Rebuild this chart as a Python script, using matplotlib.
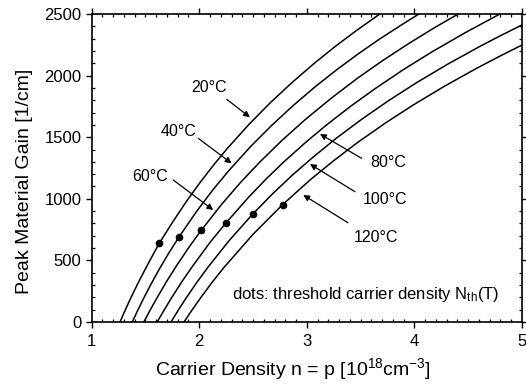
import matplotlib
matplotlib.use("Agg")
import matplotlib.pyplot as plt
from matplotlib.ticker import MultipleLocator

plt.rcParams.update({"font.family": "Liberation Sans", "mathtext.fontset": "custom",
                     "mathtext.rm": "Liberation Sans", "mathtext.it": "Liberation Sans"})

# carrier density [1e18 cm^-3] and peak gain [1/cm], one pair per temperature
n_20 = [1.263, 1.313, 1.363, 1.438, 1.513, 1.628, 1.763, 1.888, 2.013, 2.138, 2.263,
        2.463, 2.663, 2.863, 3.063, 3.263, 3.463, 3.679]
g_20 = [0, 99, 194, 328, 454, 639, 825, 988, 1139, 1279, 1411,
        1605, 1782, 1944, 2095, 2236, 2367, 2500]
n_40 = [1.377, 1.427, 1.477, 1.552, 1.627, 1.717, 1.814, 1.977, 2.127, 2.277, 2.477,
        2.677, 2.877, 3.077, 3.277, 3.477, 3.677, 3.877, 4.042]
g_40 = [0, 93, 182, 308, 427, 560, 693, 900, 1073, 1231, 1424,
        1599, 1760, 1909, 2047, 2176, 2297, 2410, 2500]
n_60 = [1.485, 1.545, 1.605, 1.695, 1.785, 1.905, 2.019, 2.205, 2.385, 2.565, 2.775,
        2.985, 3.225, 3.465, 3.705, 3.945, 4.185, 4.407]
g_60 = [0, 99, 193, 327, 452, 608, 745, 952, 1134, 1300, 1479,
        1643, 1815, 1975, 2122, 2259, 2388, 2500]
n_80 = [1.609, 1.675, 1.740, 1.838, 1.937, 2.100, 2.248, 2.461, 2.624, 2.788, 2.985,
        3.181, 3.410, 3.640, 3.902, 4.164, 4.480, 4.795]
g_80 = [0, 99, 193, 327, 452, 646, 804, 1015, 1163, 1301, 1455,
        1598, 1753, 1897, 2051, 2193, 2352, 2500]
n_100 = [1.737, 1.805, 1.872, 1.973, 2.075, 2.277, 2.496, 2.682, 2.864, 3.047, 3.276,
         3.506, 3.769, 4.032, 4.322, 4.613, 4.807, 5.0]
g_100 = [0, 96, 187, 316, 438, 660, 875, 1041, 1191, 1330, 1493,
         1643, 1802, 1949, 2099, 2239, 2327, 2411]
n_120 = [1.858, 1.932, 2.005, 2.115, 2.226, 2.498, 2.775, 3.034, 3.255, 3.475, 3.732,
         3.990, 4.284, 4.578, 4.788, 5.0]
g_120 = [0, 96, 187, 317, 439, 710, 953, 1156, 1313, 1459, 1616,
         1762, 1916, 2059, 2155, 2248]

# threshold carrier density dots
n_th = [1.628, 1.814, 2.019, 2.248, 2.496, 2.775]
g_th = [639, 693, 745, 804, 875, 953]

labels = ["20°C", "40°C", "60°C", "80°C", "100°C", "120°C"]

fig = plt.figure(figsize=(5.26, 3.89), dpi=100)
ax = fig.add_axes([0.1743, 0.1722, 0.818, 0.7918])

for n, g in [(n_20, g_20), (n_40, g_40), (n_60, g_60), (n_80, g_80), (n_100, g_100), (n_120, g_120)]:
    ax.plot(n, g, color="black", lw=1.1, solid_joinstyle="round")
ax.plot(n_th, g_th, "o", color="black", ms=4.5, zorder=3)

# label text position, arrow start, arrow tip
lab_pos = [(2.09, 1907), (1.811, 1550), (1.542, 1185), (3.754, 1295), (3.726, 998), (3.642, 690)]
arr_from = [(2.255, 1808), (1.991, 1491), (1.758, 1153), (3.509, 1329), (3.447, 1058), (3.382, 806)]
arr_to = [(2.471, 1662), (2.301, 1288), (2.130, 909), (3.122, 1526), (3.029, 1282), (2.967, 1031)]
for lab, p, a, b in zip(labels, lab_pos, arr_from, arr_to):
    ax.text(p[0], p[1], lab, fontsize=11.5, ha="center", va="center")
    ax.annotate("", xy=b, xytext=a,
                arrowprops=dict(arrowstyle="-|>", color="black", lw=0.9,
                                mutation_scale=9, shrinkA=0, shrinkB=0))

ax.text(3.545, 222, r"dots: threshold carrier density N$_{\rm th}$(T)", fontsize=12,
        ha="center", va="center")

ax.set_xlim(1, 5)
ax.set_ylim(0, 2500)
ax.xaxis.set_major_locator(MultipleLocator(1))
ax.xaxis.set_minor_locator(MultipleLocator(0.1))
ax.yaxis.set_major_locator(MultipleLocator(500))
ax.yaxis.set_minor_locator(MultipleLocator(100))
ax.tick_params(which="major", direction="out", length=4.5, width=1.0, labelsize=12,
               top=True, right=True, pad=3)
ax.tick_params(which="minor", direction="in", length=2.5, width=0.9, top=True, right=True)
ax.tick_params(axis="x", which="major", pad=4)
for s in ax.spines.values():
    s.set_linewidth(1.2)

ax.set_xlabel(r"Carrier Density n = p [10$^{18}$cm$^{-3}$]", fontsize=14)
ax.set_ylabel("Peak Material Gain [1/cm]", fontsize=14)
ax.xaxis.set_label_coords(0.469, -0.112)
ax.yaxis.set_label_coords(-0.136, 0.456)

fig.savefig("out.png", dpi=100)
